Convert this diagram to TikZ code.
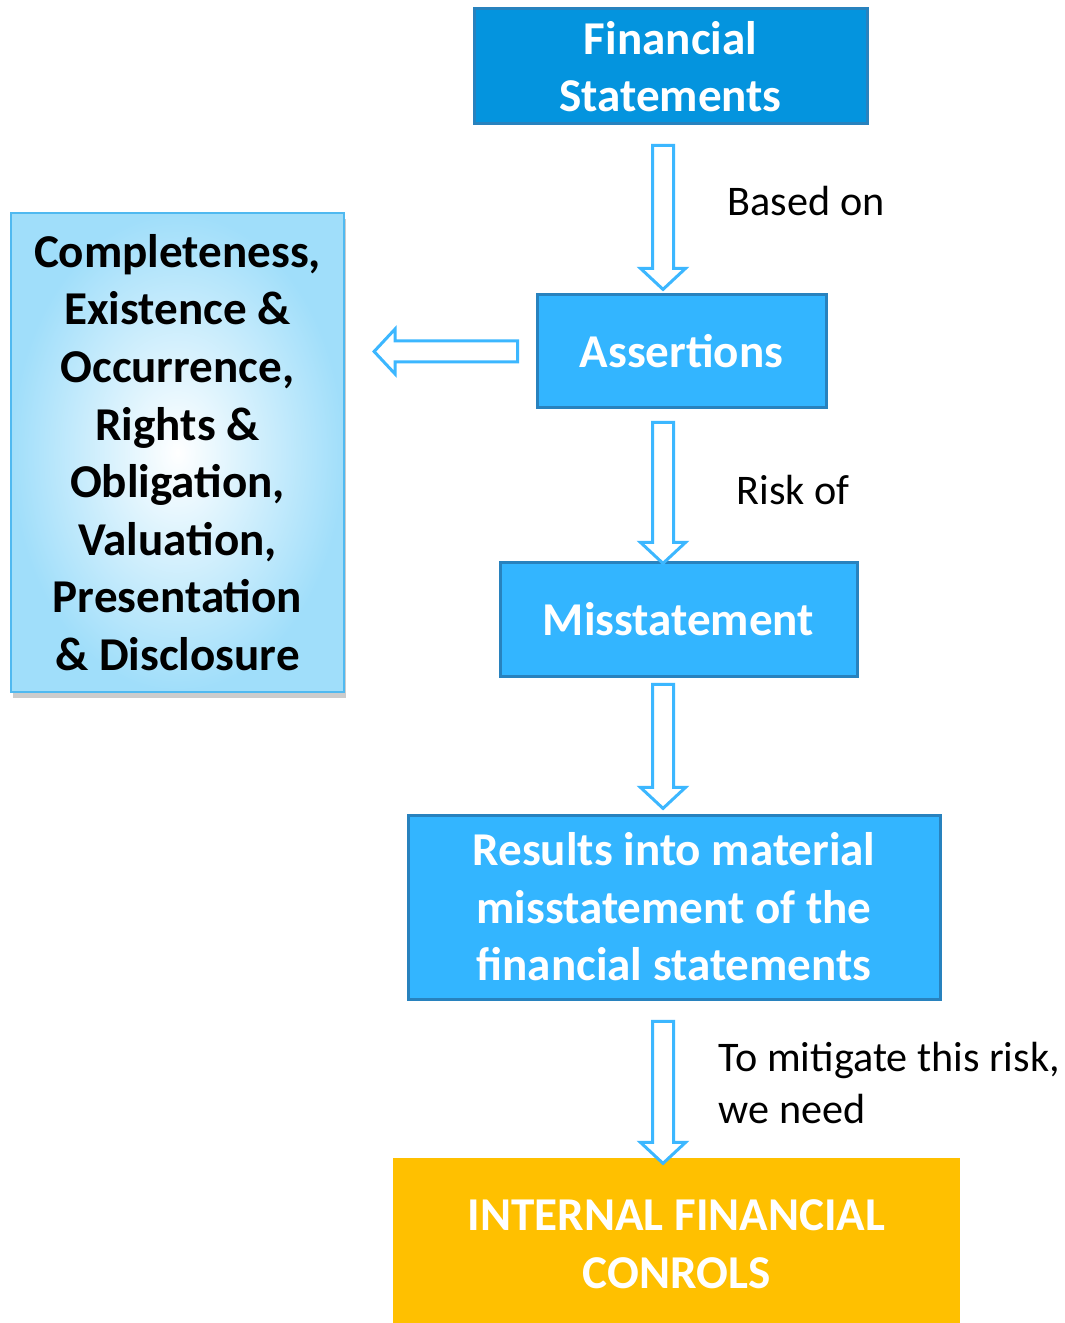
\documentclass[tikz,border=0pt]{standalone}
\usepackage{fontspec}
\setmainfont{Carlito}
\usepackage{xcolor}
\usetikzlibrary{shapes.arrows,calc,shadows}

\definecolor{fsblue}{RGB}{4,148,222}
\definecolor{boxblue}{RGB}{51,181,255}
\definecolor{edgeblue}{RGB}{40,130,190}
\definecolor{arrowblue}{RGB}{60,183,255}
\definecolor{paleblue}{RGB}{160,222,250}
\definecolor{lineblue}{RGB}{80,185,240}
\definecolor{ifcyellow}{RGB}{255,192,0}

\newcommand{\boxfont}{\fontsize{13.4}{16.4}\selectfont\bfseries}
\newcommand{\labelfont}{\fontsize{12}{14.8}\selectfont}

% hollow block arrow from one point to another
\newcommand{\flowarrow}[2]{%
  \path let \p1=#1, \p2=#2 in
    node[hollow arrow, minimum height={veclen(\x2-\x1,\y2-\y1)},
         rotate={atan2(\y2-\y1,\x2-\x1)}]
    at ({(\x1+\x2)/2},{(\y1+\y2)/2}) {};}

\tikzset{
  box/.style={draw=edgeblue, line width=0.03cm, text=white, align=center,
              font=\boxfont, inner sep=0pt},
  hollow arrow/.style={single arrow, draw=arrowblue, fill=white, line width=0.03cm,
              inner xsep=0pt, inner ysep=0.09cm, minimum width=0pt,
              single arrow head extend=0.12cm, single arrow tip angle=94},
  note/.style={anchor=west, inner sep=0pt, font=\labelfont, align=left}
}

\begin{document}
\begin{tikzpicture}
        \fill[white] (0,0) rectangle (10.64,-13.23);
        \useasboundingbox (0,0) rectangle (10.64,-13.23);

        \coordinate (spine) at (6.63,0);

        \node[box, fill=fsblue, minimum width=3.93cm, minimum height=1.15cm] (fs) at (6.705,-0.665) {Financial\\Statements};
        \node[box, fill=boxblue, minimum width=2.89cm, minimum height=1.13cm] (as) at (6.815,-3.515) {Assertions};
        \node[box, fill=boxblue, minimum width=3.57cm, minimum height=1.14cm] (ms) at (6.785,-6.19) {Misstatement};
        \node[box, fill=boxblue, minimum width=5.32cm, minimum height=1.84cm] (res) at (6.74,-9.07) {Results into material\\misstatement of the\\financial statements};
        \node[box, draw=none, fill=ifcyellow, minimum width=5.67cm, minimum height=1.72cm] (ifc) at (6.765,-12.44) {INTERNAL FINANCIAL\\CONROLS};

        \node[box, draw=lineblue, line width=0.02cm, text=black, inner color=white, outer color=paleblue,
              drop shadow={shadow xshift=0.02cm, shadow yshift=-0.06cm, opacity=.4},
              minimum width=3.33cm, minimum height=4.79cm] (ast) at (1.775,-4.525)
              {Completeness,\\Existence \&\\Occurrence,\\Rights \&\\Obligation,\\Valuation,\\Presentation\\\& Disclosure};

        \flowarrow{($(fs.south -| spine)+(0,-.15)$)}{($(as.north -| spine)+(0,.09)$)}
        \flowarrow{($(as.west)+(-.13,0)$)}{($(as.west -| ast.east)+(.34,0)$)}
        \flowarrow{($(as.south -| spine)+(0,-.08)$)}{($(ms.north -| spine)+(0,.02)$)}
        \flowarrow{($(ms.south -| spine)+(0,-.02)$)}{($(res.north -| spine)+(0,.10)$)}
        \flowarrow{($(res.south -| spine)+(0,-.16)$)}{($(ifc.north -| spine)+(0,-.02)$)}

        \node[note] (basedon) at (7.27,-2.01) {Based on};
        \node[note] (riskof) at (7.36,-4.90) {Risk of};
        \node[note] (mitigate) at (7.18,-10.83) {To mitigate this risk,\\we need};
\end{tikzpicture}
\end{document}
